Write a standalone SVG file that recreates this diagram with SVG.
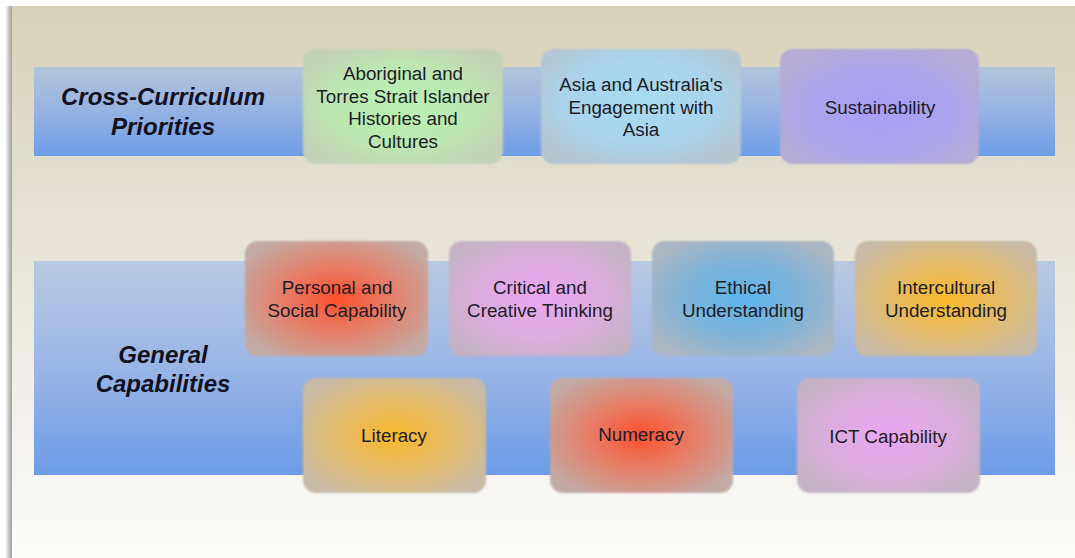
<svg xmlns="http://www.w3.org/2000/svg" width="1075" height="558" viewBox="0 0 1075 558">
<defs>
<linearGradient id="bg" x1="0" y1="0" x2="0" y2="1">
<stop offset="0" stop-color="#d7d1b9"/>
<stop offset="0.45" stop-color="#e8e5d8"/>
<stop offset="1" stop-color="#fcfcfb"/>
</linearGradient>
<linearGradient id="band1" x1="0" y1="0" x2="0" y2="1">
<stop offset="0" stop-color="#b3c4da"/>
<stop offset="0.5" stop-color="#96b2e2"/>
<stop offset="1" stop-color="#6d9de8"/>
</linearGradient>
<linearGradient id="band2" x1="0" y1="0" x2="0" y2="1">
<stop offset="0" stop-color="#b9c9e1"/>
<stop offset="0.5" stop-color="#9ab5e6"/>
<stop offset="1" stop-color="#6c9ce8"/>
</linearGradient>
<linearGradient id="shadow" x1="0" y1="0" x2="1" y2="0">
<stop offset="0" stop-color="#ffffff"/>
<stop offset="0.6" stop-color="#b8b8b8"/>
<stop offset="1" stop-color="#9a9a9a"/>
</linearGradient>
<radialGradient id="gGreen" cx="0.5" cy="0.5" r="0.6"><stop offset="0" stop-color="#b8f2b0"/><stop offset="0.6" stop-color="#bde6b2"/><stop offset="1" stop-color="#c3d2b6"/></radialGradient>
<radialGradient id="gSky" cx="0.5" cy="0.45" r="0.6"><stop offset="0" stop-color="#a6dcf4"/><stop offset="0.6" stop-color="#a9d4ec"/><stop offset="1" stop-color="#b3c6d2"/></radialGradient>
<radialGradient id="gLav" cx="0.5" cy="0.55" r="0.6"><stop offset="0" stop-color="#aaa0fa"/><stop offset="0.6" stop-color="#aca4ec"/><stop offset="1" stop-color="#b4acd4"/></radialGradient>
<radialGradient id="gRed" cx="0.5" cy="0.5" r="0.6"><stop offset="0" stop-color="#fb4f2c"/><stop offset="0.5" stop-color="#e6806a"/><stop offset="1" stop-color="#c2aaa4"/></radialGradient>
<radialGradient id="gPink" cx="0.5" cy="0.5" r="0.6"><stop offset="0" stop-color="#eaa6f4"/><stop offset="0.55" stop-color="#dcacde"/><stop offset="1" stop-color="#c4b2c4"/></radialGradient>
<radialGradient id="gBlue" cx="0.5" cy="0.5" r="0.6"><stop offset="0" stop-color="#5cb4ec"/><stop offset="0.55" stop-color="#80b4d8"/><stop offset="1" stop-color="#aab6c2"/></radialGradient>
<radialGradient id="gOrange" cx="0.5" cy="0.5" r="0.6"><stop offset="0" stop-color="#fab82a"/><stop offset="0.55" stop-color="#e2bb6e"/><stop offset="1" stop-color="#c8baa6"/></radialGradient>
<filter id="soft" x="-5%" y="-5%" width="110%" height="110%"><feGaussianBlur stdDeviation="1.2"/></filter>
</defs>
<style>
.t{font-family:"Liberation Sans",Arial,sans-serif;font-size:18.8px;fill:#1c1c26;text-anchor:middle}
.h{font-family:"Liberation Sans",Arial,sans-serif;font-size:24px;font-weight:bold;font-style:italic;fill:#111122;text-anchor:middle}
.box{filter:url(#soft)}
</style>
<rect width="1075" height="558" fill="#ffffff"/>
<rect x="5" y="6" width="8" height="552" fill="url(#shadow)"/>
<rect x="12" y="6" width="1063" height="552" fill="url(#bg)"/>
<g id="band-cross-curriculum">
<rect x="34" y="67" width="1021" height="89" fill="url(#band1)"/>
<text class="h" x="163" y="105">Cross-Curriculum</text>
<text class="h" x="163" y="135">Priorities</text>
</g>
<g id="band-general-capabilities">
<rect x="34" y="261" width="1021" height="214" fill="url(#band2)"/>
<text class="h" x="163" y="363">General</text>
<text class="h" x="163" y="392">Capabilities</text>
</g>
<g id="node-aboriginal">
<rect class="box" x="303" y="49" width="200" height="115" rx="13" fill="url(#gGreen)"/>
<text class="t" x="403" y="80">Aboriginal and</text>
<text class="t" x="403" y="102.5">Torres Strait Islander</text>
<text class="t" x="403" y="125">Histories and</text>
<text class="t" x="403" y="147.5">Cultures</text>
</g>
<g id="node-asia">
<rect class="box" x="541" y="49" width="200" height="115" rx="13" fill="url(#gSky)"/>
<text class="t" x="641" y="91">Asia and Australia's</text>
<text class="t" x="641" y="113.5">Engagement with</text>
<text class="t" x="641" y="136">Asia</text>
</g>
<g id="node-sustainability">
<rect class="box" x="780" y="49" width="199" height="115" rx="13" fill="url(#gLav)"/>
<text class="t" x="880" y="114">Sustainability</text>
</g>
<g id="node-personal-social">
<rect class="box" x="245" y="241" width="183" height="115" rx="13" fill="url(#gRed)"/>
<text class="t" x="337" y="294">Personal and</text>
<text class="t" x="337" y="317">Social Capability</text>
</g>
<g id="node-critical-creative">
<rect class="box" x="449" y="241" width="182" height="115" rx="13" fill="url(#gPink)"/>
<text class="t" x="540" y="294">Critical and</text>
<text class="t" x="540" y="317">Creative Thinking</text>
</g>
<g id="node-ethical">
<rect class="box" x="652" y="241" width="182" height="115" rx="13" fill="url(#gBlue)"/>
<text class="t" x="743" y="294">Ethical</text>
<text class="t" x="743" y="317">Understanding</text>
</g>
<g id="node-intercultural">
<rect class="box" x="855" y="241" width="182" height="115" rx="13" fill="url(#gOrange)"/>
<text class="t" x="946" y="294">Intercultural</text>
<text class="t" x="946" y="317">Understanding</text>
</g>
<g id="node-literacy">
<rect class="box" x="303" y="378" width="183" height="115" rx="13" fill="url(#gOrange)"/>
<text class="t" x="394" y="442">Literacy</text>
</g>
<g id="node-numeracy">
<rect class="box" x="550" y="378" width="183" height="115" rx="13" fill="url(#gRed)"/>
<text class="t" x="641" y="441">Numeracy</text>
</g>
<g id="node-ict">
<rect class="box" x="797" y="378" width="183" height="115" rx="13" fill="url(#gPink)"/>
<text class="t" x="888" y="443">ICT Capability</text>
</g>
<g id="connectors"/>
</svg>
